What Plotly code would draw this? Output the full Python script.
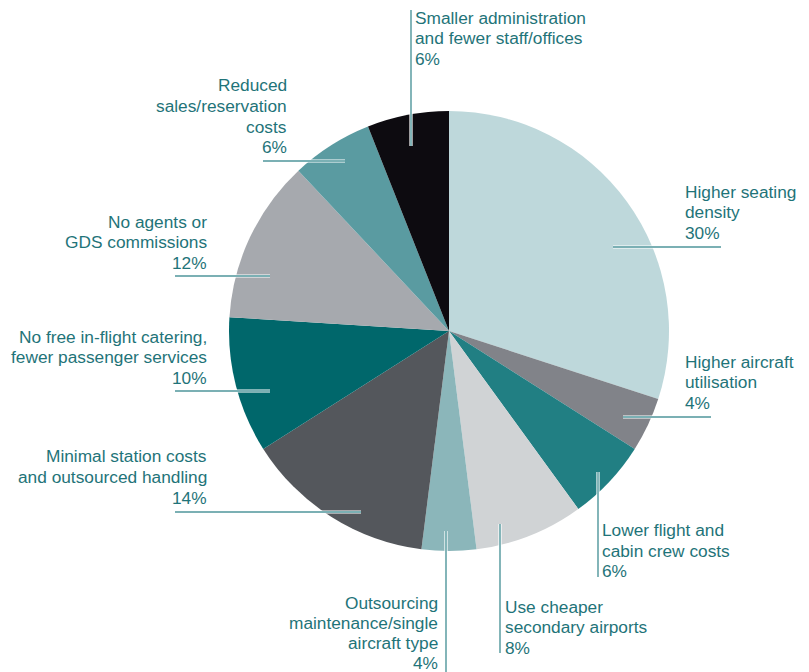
import plotly.graph_objects as go

# Cost-saving contributions, clockwise from 12 o'clock
categories = [
    "Higher seating density",
    "Higher aircraft utilisation",
    "Lower flight and cabin crew costs",
    "Use cheaper secondary airports",
    "Outsourcing maintenance/single aircraft type",
    "Minimal station costs and outsourced handling",
    "No free in-flight catering, fewer passenger services",
    "No agents or GDS commissions",
    "Reduced sales/reservation costs",
    "Smaller administration and fewer staff/offices",
]
shares = [30, 4, 6, 8, 4, 14, 10, 12, 6, 6]

# Label text, line by line (percentage line taken from shares)
label_lines = [
    ["Higher seating", "density"],
    ["Higher aircraft", "utilisation"],
    ["Lower flight and", "cabin crew costs"],
    ["Use cheaper", "secondary airports"],
    ["Outsourcing", "maintenance/single", "aircraft type"],
    ["Minimal station costs", "and outsourced handling"],
    ["No free in-flight catering,", "fewer passenger services"],
    ["No agents or", "GDS commissions"],
    ["Reduced", "sales/reservation", "costs"],
    ["Smaller administration", "and fewer staff/offices"],
]

slice_colors = [
    "#bed8db", "#818389", "#217f83", "#d0d3d5", "#8bb6ba",
    "#54575c", "#00676b", "#a6a9ae", "#5a9ba1", "#0d0b10",
]

W, H = 809, 672
TEXT_COLOR = "#1f7479"
LEADER_COLOR = "#4f969b"
FONT = "Liberation Sans, Arial, sans-serif"
FS = 17.3

# Label placement (pixels): text anchor x, alignment, first baseline, line pitch
label_layout = [
    dict(x=686, align="left", y0=198, dy=20.2),
    dict(x=686, align="left", y0=368, dy=20.2),
    dict(x=603, align="left", y0=536, dy=20.5),
    dict(x=506, align="left", y0=613, dy=20.2),
    dict(x=438, align="right", y0=609, dy=20.0),
    dict(x=207, align="right", y0=462, dy=21.0),
    dict(x=207, align="right", y0=343, dy=20.2),
    dict(x=207, align="right", y0=228, dy=20.2),
    dict(x=287, align="right", y0=91, dy=20.7),
    dict(x=416, align="left", y0=24, dy=20.2),
]

# Leader lines (pixels): x0, y0, x1, y1
leaders = [
    (613, 247, 721, 247),
    (623, 417, 711, 417),
    (598, 472, 598, 577),
    (500, 524, 500, 653),
    (446, 531, 446, 672),
    (175, 512, 361, 512),
    (175, 391, 270, 391),
    (175, 276, 270, 276),
    (263, 161, 345, 161),
    (411, 10, 411, 146),
]

# Pie placement (pixels)
CX, CY, R = 449, 331, 220


def px(x):
    return x / W


def py(y):
    return 1 - y / H


fig = go.Figure(
    go.Pie(
        labels=categories,
        values=shares,
        sort=False,
        direction="clockwise",
        rotation=0,
        marker=dict(colors=slice_colors, line=dict(color="#ffffff", width=0)),
        textinfo="none",
        hoverinfo="label+percent",
        showlegend=False,
        domain=dict(x=[px(CX - R), px(CX + R)], y=[py(CY + R), py(CY - R)]),
    )
)

shapes = []
for x0, y0, x1, y1 in leaders:
    # white halo under the leader so it reads across dark slices
    shapes.append(dict(type="line", xref="paper", yref="paper",
                       x0=px(x0), y0=py(y0), x1=px(x1), y1=py(y1),
                       line=dict(color="#ffffff", width=3.2), layer="above"))
    shapes.append(dict(type="line", xref="paper", yref="paper",
                       x0=px(x0), y0=py(y0), x1=px(x1), y1=py(y1),
                       line=dict(color=LEADER_COLOR, width=1.4), layer="above"))

annotations = []
for lines, share, lay in zip(label_lines, shares, label_layout):
    rows = lines + [f"{share}%"]
    # annotation box carries a few pixels of padding; compensate for it
    shift = -3 if lay["align"] == "left" else 2
    for i, row in enumerate(rows):
        baseline = lay["y0"] + i * lay["dy"]
        annotations.append(dict(
            text=row, showarrow=False, xref="paper", yref="paper",
            x=px(lay["x"] + shift), y=py(baseline - 5.8),
            xanchor=lay["align"], yanchor="middle", align=lay["align"],
            font=dict(family=FONT, size=FS, color=TEXT_COLOR),
        ))

fig.update_layout(
    width=W, height=H,
    margin=dict(l=0, r=0, t=0, b=0),
    paper_bgcolor="#ffffff",
    plot_bgcolor="#ffffff",
    shapes=shapes,
    annotations=annotations,
)

fig.write_html("out.html")
